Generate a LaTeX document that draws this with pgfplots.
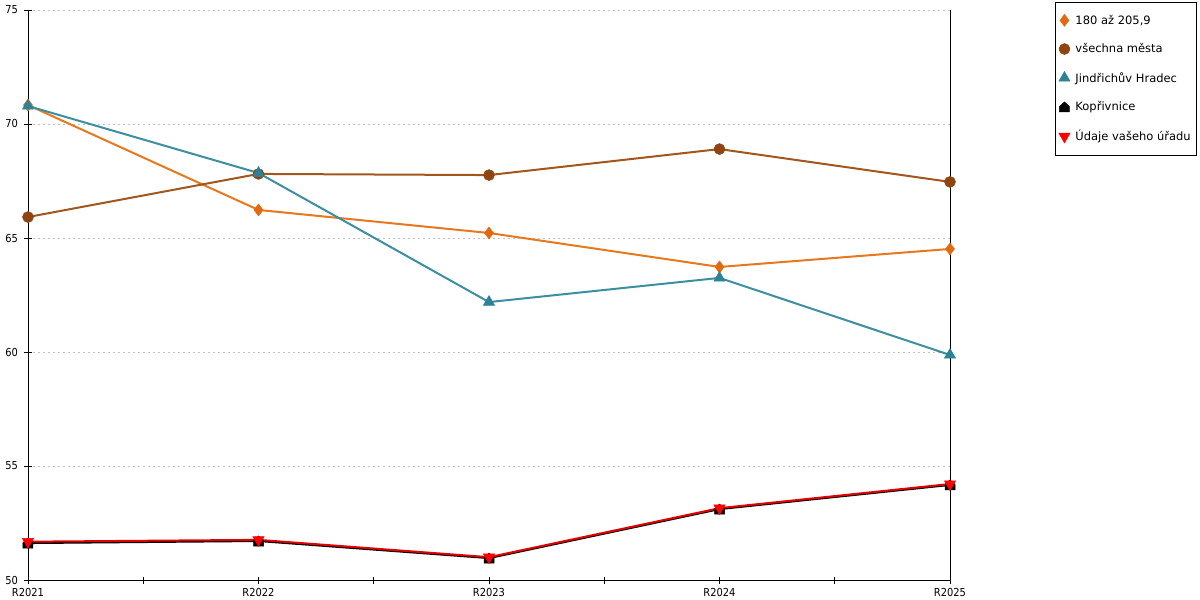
\documentclass[border=0pt]{standalone}
\usepackage{pgfplots}
\pgfplotsset{compat=1.18}
\usepackage{fontspec}
\setmainfont{DejaVu Sans}
\newfontfamily\tickfont{DejaVu Sans Condensed}
\definecolor{cOrange}{HTML}{E8781E}
\definecolor{cOrangeM}{HTML}{E06A10}
\definecolor{cBrown}{HTML}{A3561C}
\definecolor{cBrownM}{HTML}{8E4512}
\definecolor{cTeal}{HTML}{3C8FA2}
\definecolor{cTealM}{HTML}{2E8298}
\definecolor{cRed}{HTML}{E00000}
\makeatletter
\pgfdeclareplotmark{house*}{%
  \pgfpathmoveto{\pgfqpoint{-\pgfplotmarksize}{-\pgfplotmarksize}}%
  \pgfpathlineto{\pgfqpoint{\pgfplotmarksize}{-\pgfplotmarksize}}%
  \pgfpathlineto{\pgfqpoint{\pgfplotmarksize}{0.1\pgfplotmarksize}}%
  \pgfpathlineto{\pgfqpoint{0pt}{\pgfplotmarksize}}%
  \pgfpathlineto{\pgfqpoint{-\pgfplotmarksize}{0.1\pgfplotmarksize}}%
  \pgfpathclose
  \pgfusepathqfillstroke}
\makeatother
\begin{document}
\begin{tikzpicture}[x=1pt,y=1pt]
\useasboundingbox (-28,-20) rectangle (1172,580);
\begin{axis}[
  at={(0,0)}, anchor=origin,
  scale only axis, width=922pt, height=570pt,
  xmin=0, xmax=4, ymin=50, ymax=75,
  xtick={0,1,2,3,4},
  xticklabels={R2021,R2022,R2023,R2024,R2025},
  minor xtick={0.5,1.5,2.5,3.5},
  ytick={50,55,60,65,70,75},
  axis x line=bottom, axis y line=left,
  axis line style={-, black, line width=0.9pt},
  tick align=center,
  major tick length=7pt, minor tick length=7pt,
  tick style={black, line width=0.9pt},
  ymajorgrids,
  major grid style={gray!50, dash pattern=on 2pt off 3pt, line width=0.9pt},
  tick label style={font=\tickfont\fontsize{11}{13}\selectfont},
  yticklabel style={xshift=-3pt},
  xticklabel style={yshift=-1pt},
  /pgf/number format/assume math mode=true,
  clip=false,
  legend style={at={(axis description cs:1.1139,1.014)}, anchor=north west,
    draw=black, line width=0.9pt, font=\fontsize{11.5}{13.5}\selectfont,
    row sep=14pt, inner xsep=3pt, inner ysep=10.5pt, cells={anchor=west},
    nodes={inner xsep=3pt}},
  legend image code/.code={\path (0pt,0pt) (12pt,0pt); \path[#1] plot coordinates {(5pt,0pt)};},
]
\addplot[cOrange, line width=2pt, mark=diamond*, mark size=6pt, mark options={fill=cOrangeM, draw=cOrangeM, line width=0.5pt}]
  coordinates {(0,70.83) (1,66.23) (2,65.22) (3,63.73) (4,64.52)};
\addlegendentry{180 až 205,9}
\addplot[cBrown, line width=2pt, mark=*, mark size=5.5pt, mark options={fill=cBrownM, draw=cBrownM, line width=0.5pt}]
  coordinates {(0,65.92) (1,67.81) (2,67.76) (3,68.90) (4,67.46)};
\addlegendentry{všechna města}
\addplot[cTeal, line width=2pt, mark=triangle*, mark size=6.5pt, mark options={fill=cTealM, draw=cTealM, line width=0.5pt}]
  coordinates {(0,70.79) (1,67.85) (2,62.19) (3,63.25) (4,59.87)};
\addlegendentry{Jindřichův Hradec}
\addplot[black, line width=2pt, mark=house*, mark size=5pt, mark options={fill=black, line width=0.5pt}]
  coordinates {(0,51.62) (1,51.71) (2,50.96) (3,53.11) (4,54.17)};
\addlegendentry{Kopřivnice}
\addplot[cRed, line width=2pt, mark=triangle*, mark size=6.5pt, mark options={fill=red, draw=red, rotate=180, line width=0.5pt}]
  coordinates {(0,51.68) (1,51.76) (2,51.00) (3,53.15) (4,54.21)};
\addlegendentry{Údaje vašeho úřadu}
\draw[black, line width=0.9pt] (axis cs:4,50) -- (axis cs:4,75);
\end{axis}
\end{tikzpicture}
\end{document}
